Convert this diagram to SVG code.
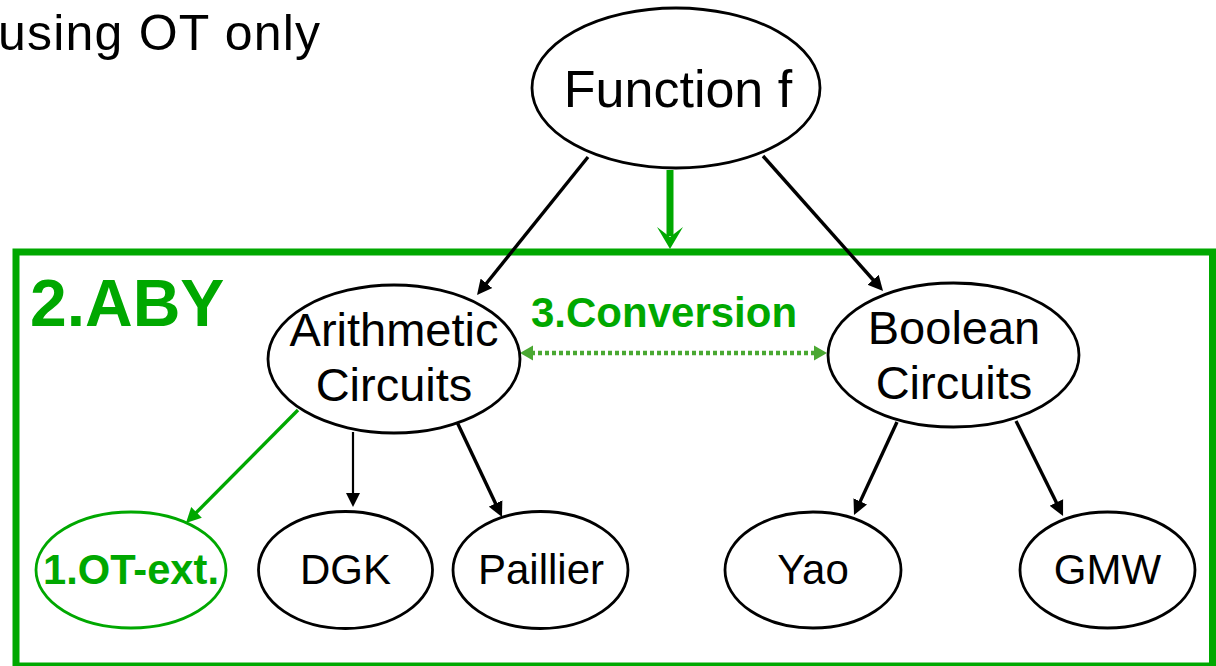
<svg xmlns="http://www.w3.org/2000/svg" width="1216" height="666" viewBox="0 0 1216 666">
  <style>
    .node { fill: #ffffff; stroke: #000000; stroke-width: 2.8; }
    .node-green { fill: #ffffff; stroke: #00a800; stroke-width: 2.8; }
    .lbl { font-family: "Liberation Sans", Arial, sans-serif; fill: #000000; text-anchor: middle; }
    .lbl-green { font-family: "Liberation Sans", Arial, sans-serif; fill: #00a800; font-weight: bold; }
    .edge { stroke: #000000; stroke-width: 3.4; fill: none; }
    .edge-thin { stroke: #000000; stroke-width: 2.2; fill: none; }
    .edge-green { stroke: #00a800; stroke-width: 3.4; fill: none; }
  </style>
  <defs>
    <marker id="arrow-black" markerUnits="userSpaceOnUse" markerWidth="16" markerHeight="16" refX="5" refY="8" orient="auto">
      <path d="M0,0.5 L15,8 L0,15.5 z" fill="#000000"/>
    </marker>
    <marker id="arrow-black-small" markerUnits="userSpaceOnUse" markerWidth="16" markerHeight="16" refX="5" refY="8" orient="auto">
      <path d="M0,1 L14,8 L0,15 z" fill="#000000"/>
    </marker>
    <marker id="arrow-green" markerUnits="userSpaceOnUse" markerWidth="16" markerHeight="16" refX="5" refY="8" orient="auto">
      <path d="M0,0.5 L15,8 L0,15.5 z" fill="#00a800"/>
    </marker>
    <marker id="arrow-conv" markerUnits="userSpaceOnUse" markerWidth="14" markerHeight="16" refX="2" refY="8" orient="auto-start-reverse">
      <path d="M0,0.5 L13,8 L0,15.5 z" fill="#4aa832"/>
    </marker>
  </defs>

  <rect width="1216" height="666" fill="#ffffff"/>

  <!-- caption fragment at top-left -->
  <text x="-2" y="50" font-family="'Liberation Sans', Arial, sans-serif" font-size="50" textLength="322" lengthAdjust="spacing" fill="#000000">using OT only</text>

  <!-- ABY framework box -->
  <g id="aby-frame">
    <rect x="16" y="252" width="1196.5" height="414" fill="none" stroke="#00a800" stroke-width="7"/>
    <text class="lbl-green" x="30" y="326" font-size="66">2.ABY</text>
  </g>

  <!-- connectors -->
  <g id="connectors">
    <line class="edge" x1="588" y1="157" x2="483.3" y2="287.2" marker-end="url(#arrow-black)"/>
    <line class="edge" x1="763" y1="156" x2="876.4" y2="283.5" marker-end="url(#arrow-black)"/>
    <!-- thick green arrow into the framework -->
    <line x1="670" y1="170" x2="670" y2="236" stroke="#00a800" stroke-width="7"/>
    <path d="M670,249 L657,227 L670,237 L683,227 Z" fill="#00a800"/>
    <line class="edge-green" x1="298" y1="410" x2="193" y2="515.9" marker-end="url(#arrow-green)"/>
    <line class="edge-thin" x1="353" y1="432" x2="353" y2="498" marker-end="url(#arrow-black-small)"/>
    <line class="edge" x1="457" y1="422" x2="497.7" y2="508" marker-end="url(#arrow-black)"/>
    <line class="edge" x1="897" y1="422" x2="858.2" y2="505.9" marker-end="url(#arrow-black)"/>
    <line class="edge" x1="1016" y1="421" x2="1058.6" y2="507" marker-end="url(#arrow-black)"/>
    <!-- conversion between circuit types -->
    <line x1="531" y1="353" x2="816" y2="353" stroke="#4aa832" stroke-width="4.5" stroke-dasharray="4 3" marker-start="url(#arrow-conv)" marker-end="url(#arrow-conv)"/>
    <text class="lbl-green" x="531" y="327" font-size="42">3.Conversion</text>
  </g>

  <g id="function-f">
    <ellipse class="node" cx="676" cy="88" rx="144" ry="80"/>
    <text class="lbl" x="678" y="107" font-size="52">Function f</text>
  </g>

  <g id="arithmetic">
    <ellipse class="node" cx="394" cy="359" rx="126" ry="74"/>
    <text class="lbl" x="394" y="346" font-size="47">Arithmetic</text>
    <text class="lbl" x="394" y="401" font-size="47">Circuits</text>
  </g>

  <g id="boolean">
    <ellipse class="node" cx="953.5" cy="355" rx="125.5" ry="72"/>
    <text class="lbl" x="954" y="344" font-size="47">Boolean</text>
    <text class="lbl" x="954" y="399" font-size="47">Circuits</text>
  </g>

  <g id="ot-ext">
    <ellipse class="node-green" cx="131" cy="570" rx="95" ry="58"/>
    <text class="lbl-green" x="131" y="584" font-size="42" text-anchor="middle" textLength="176" lengthAdjust="spacingAndGlyphs">1.OT-ext.</text>
  </g>

  <g id="dgk">
    <ellipse class="node" cx="345.5" cy="570" rx="87" ry="58.5"/>
    <text class="lbl" x="345.5" y="584" font-size="42">DGK</text>
  </g>

  <g id="paillier">
    <ellipse class="node" cx="540.5" cy="570" rx="87.5" ry="58.5"/>
    <text class="lbl" x="541" y="584" font-size="42">Paillier</text>
  </g>

  <g id="yao">
    <ellipse class="node" cx="813" cy="570" rx="88" ry="58"/>
    <text class="lbl" x="813" y="584" font-size="42">Yao</text>
  </g>

  <g id="gmw">
    <ellipse class="node" cx="1107.5" cy="570" rx="87.5" ry="58"/>
    <text class="lbl" x="1107.5" y="584" font-size="42">GMW</text>
  </g>
</svg>
